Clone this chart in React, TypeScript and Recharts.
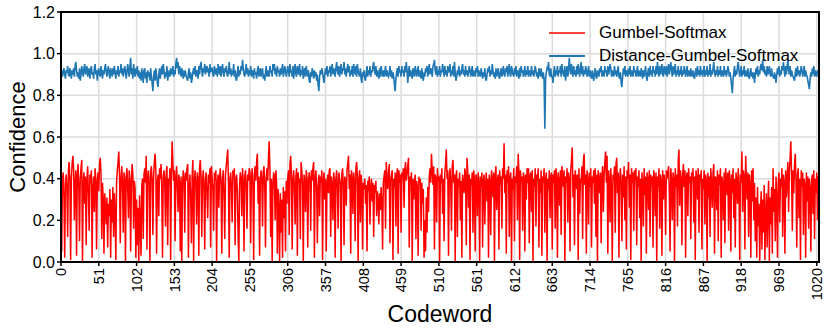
import { LineChart, Line, XAxis, YAxis, CartesianGrid } from 'recharts'

// confidence per codeword (codewords 0..1023)
const gumbelSoftmax = [
  .36, .05, .40, .43, .31, .02, .38, .42, .35, .12, .44, .48, .39, .01, .40, .47, .51,
  .45, .20, .38, .44, .03, .41, .47, .36, .10, .40, .45, .49, .00, .37, .43, .28, .41,
  .08, .39, .46, .33, .15, .42, .38, .44, .02, .36, .41, .24, .45, .40, .06, .38, .43,
  .34, .47, .50, .42, .11, .38, .30, .04, .33, .26, .18, .31, .07, .28, .22, .35, .02,
  .30, .19, .36, .12, .33, .25, .01, .38, .44, .48, .53, .41, .09, .40, .46, .37, .14,
  .43, .39, .00, .41, .45, .36, .21, .44, .40, .05, .38, .47, .42, .16, .39, .35, .02,
  .30, .08, .26, .00, .32, .19, .03, .36, .40, .11, .42, .45, .38, .51, .06, .41, .44,
  .37, .00, .43, .46, .39, .13, .41, .48, .52, .44, .04, .38, .42, .22, .45, .40, .47,
  .35, .02, .41, .44, .39, .17, .43, .46, .08, .40, .37, .45, .01, .42, .58, .47, .39,
  .44, .10, .40, .46, .36, .24, .42, .38, .05, .41, .00, .37, .44, .40, .14, .43, .39,
  .45, .47, .02, .36, .42, .31, .09, .41, .49, .00, .39, .44, .37, .18, .43, .40, .03,
  .45, .49, .41, .12, .38, .44, .36, .06, .40, .43, .33, .21, .42, .38, .45, .07, .46,
  .40, .35, .15, .43, .39, .44, .00, .38, .42, .26, .41, .45, .37, .04, .40, .44, .32,
  .11, .42, .46, .50, .54, .38, .02, .40, .43, .36, .19, .44, .41, .45, .08, .39, .42,
  .34, .13, .00, .37, .43, .40, .22, .45, .38, .05, .41, .44, .36, .16, .42, .39, .45,
  .43, .09, .40, .45, .37, .01, .42, .46, .39, .48, .52, .28, .41, .03, .38, .44, .40,
  .17, .43, .46, .36, .07, .41, .45, .39, .50, .58, .44, .12, .40, .00, .37, .43, .41,
  .20, .44, .38, .04, .35, .26, .00, .33, .14, .30, .02, .36, .21, .34, .05, .39, .28,
  .40, .44, .13, .47, .51, .42, .06, .39, .44, .36, .18, .41, .45, .03, .43, .38, .40,
  .11, .48, .44, .37, .00, .42, .39, .24, .44, .41, .07, .38, .43, .40, .15, .44, .39,
  .45, .48, .02, .40, .44, .37, .09, .35, .42, .22, .41, .38, .44, .01, .39, .43, .30,
  .40, .05, .38, .42, .33, .44, .45, .12, .41, .37, .20, .43, .39, .02, .40, .44, .36,
  .16, .43, .40, .38, .00, .42, .45, .37, .08, .41, .39, .27, .44, .47, .51, .35, .42,
  .04, .44, .40, .23, .43, .38, .10, .45, .48, .41, .00, .39, .44, .19, .42, .37, .06,
  .38, .35, .40, .28, .37, .05, .39, .34, .41, .18, .36, .40, .29, .38, .12, .37, .33,
  .39, .22, .34, .30, .18, .33, .25, .36, .29, .06, .38, .41, .44, .16, .48, .40, .35,
  .43, .47, .09, .39, .42, .44, .01, .40, .36, .43, .17, .41, .45, .04, .44, .38, .42,
  .14, .43, .40, .45, .26, .44, .48, .39, .42, .46, .50, .07, .41, .37, .43, .00, .40,
  .30, .38, .42, .11, .39, .36, .03, .41, .37, .40, .15, .38, .28, .35, .02, .20, .05,
  .31, .14, .36, .24, .41, .45, .38, .52, .44, .37, .46, .06, .42, .40, .19, .45, .39,
  .41, .00, .42, .38, .45, .23, .40, .10, .43, .47, .54, .40, .44, .03, .39, .45, .37,
  .15, .46, .49, .38, .42, .00, .41, .44, .12, .40, .36, .43, .20, .39, .02, .42, .38,
  .33, .45, .41, .08, .50, .43, .26, .42, .01, .40, .37, .43, .14, .44, .39, .05, .42,
  .40, .22, .43, .38, .00, .41, .36, .43, .07, .39, .42, .18, .37, .43, .29, .40, .02,
  .42, .38, .13, .44, .40, .31, .43, .00, .41, .46, .25, .39, .42, .06, .44, .37, .41,
  .16, .45, .40, .57, .33, .42, .04, .44, .38, .46, .12, .41, .43, .00, .40, .35, .45,
  .10, .41, .38, .46, .20, .52, .43, .01, .44, .39, .41, .15, .43, .40, .05, .42, .30,
  .45, .38, .45, .09, .41, .43, .24, .44, .00, .40, .36, .45, .17, .42, .39, .45, .07,
  .40, .33, .44, .03, .41, .38, .45, .14, .39, .43, .00, .40, .35, .44, .21, .41, .43,
  .06, .42, .38, .44, .16, .45, .40, .02, .43, .39, .27, .44, .13, .46, .41, .36, .44,
  .00, .41, .38, .45, .19, .43, .40, .05, .44, .49, .55, .31, .42, .08, .44, .40, .35,
  .42, .01, .45, .23, .40, .38, .46, .11, .48, .52, .37, .42, .04, .44, .39, .18, .43,
  .36, .45, .07, .41, .38, .44, .28, .45, .12, .42, .00, .44, .40, .33, .43, .09, .41,
  .46, .24, .42, .48, .53, .38, .51, .04, .44, .40, .19, .45, .36, .00, .42, .39, .46,
  .14, .47, .50, .33, .43, .02, .40, .45, .37, .10, .42, .31, .46, .20, .41, .06, .44,
  .40, .48, .26, .42, .01, .45, .38, .43, .15, .44, .39, .45, .08, .41, .36, .44, .21,
  .40, .00, .43, .38, .17, .45, .32, .41, .04, .43, .40, .25, .44, .12, .42, .37, .41,
  .07, .44, .40, .22, .43, .00, .41, .36, .45, .16, .42, .39, .03, .44, .30, .42, .38,
  .13, .44, .40, .43, .46, .33, .05, .45, .39, .20, .43, .40, .00, .45, .36, .42, .17,
  .48, .54, .27, .44, .40, .08, .42, .47, .36, .44, .02, .41, .43, .22, .45, .38, .41,
  .11, .43, .39, .45, .19, .41, .01, .44, .40, .30, .45, .14, .42, .38, .44, .06, .40,
  .35, .44, .18, .42, .39, .00, .43, .31, .41, .12, .45, .38, .26, .43, .47, .04, .41,
  .40, .25, .44, .10, .42, .37, .45, .02, .41, .38, .20, .43, .09, .45, .40, .32, .43,
  .15, .44, .38, .05, .42, .33, .45, .21, .40, .07, .43, .39, .28, .45, .36, .01, .42,
  .38, .53, .24, .44, .41, .06, .51, .40, .30, .43, .12, .42, .37, .02, .44, .29, .45,
  .20, .38, .10, .31, .02, .36, .17, .28, .00, .25, .34, .06, .30, .14, .37, .01, .22,
  .33, .07, .27, .39, .00, .31, .18, .36, .04, .45, .24, .35, .10, .41, .30, .02, .38,
  .43, .19, .40, .36, .45, .12, .42, .38, .04, .44, .31, .40, .48, .24, .43, .50, .58,
  .41, .15, .44, .33, .47, .52, .38, .07, .42, .45, .21, .40, .01, .44, .36, .43, .13,
  .40, .37, .02, .43, .29, .41, .16, .40, .35, .05, .39, .42, .23, .44, .11, .40, .33,
  .43, .20, .41, .10,
]

const distanceGumbelSoftmax = [
  .90, .92, .89, .91, .93, .90, .88, .92, .91, .94, .90, .89, .93, .91, .88, .92, .90,
  .93, .89, .94, .96, .92, .89, .91, .88, .93, .87, .90, .94, .91, .89, .93, .95, .90,
  .92, .94, .89, .91, .93, .88, .92, .94, .90, .91, .88, .93, .95, .90, .92, .87, .91,
  .93, .90, .89, .94, .91, .88, .92, .90, .93, .95, .91, .89, .92, .94, .90, .88, .93,
  .91, .89, .93, .90, .94, .91, .88, .92, .90, .94, .89, .92, .91, .95, .90, .93, .89,
  .91, .94, .92, .88, .91, .95, .92, .89, .94, .98, .90, .93, .88, .95, .91, .89, .93,
  .90, .94, .89, .92, .88, .91, .87, .93, .90, .86, .92, .93, .88, .91, .86, .92, .89,
  .91, .87, .93, .89, .86, .82, .89, .92, .87, .93, .90, .86, .84, .90, .93, .88, .91,
  .94, .90, .95, .92, .88, .91, .89, .94, .87, .90, .92, .89, .93, .90, .91, .94, .89,
  .92, .90, .95, .98, .93, .96, .90, .94, .92, .89, .93, .91, .88, .92, .90, .91, .89,
  .88, .87, .91, .93, .88, .91, .86, .88, .91, .93, .90, .94, .89, .92, .91, .88, .94,
  .90, .94, .96, .92, .89, .93, .91, .95, .90, .94, .91, .93, .92, .89, .95, .91, .93,
  .93, .90, .89, .94, .92, .90, .93, .89, .95, .92, .90, .94, .89, .92, .95, .91, .89,
  .93, .91, .94, .90, .89, .92, .96, .90, .93, .89, .92, .90, .95, .89, .92, .88, .87,
  .91, .94, .89, .92, .90, .94, .92, .97, .93, .90, .89, .92, .95, .90, .93, .89, .92,
  .90, .94, .89, .92, .91, .88, .93, .90, .91, .88, .92, .94, .89, .91, .93, .89, .91,
  .93, .88, .90, .87, .91, .94, .89, .92, .90, .89, .94, .91, .92, .89, .95, .92, .95,
  .90, .93, .89, .94, .91, .92, .89, .93, .90, .92, .95, .89, .91, .94, .92, .89, .91,
  .94, .92, .89, .95, .91, .92, .89, .94, .88, .92, .95, .90, .89, .94, .92, .90, .95,
  .89, .92, .90, .94, .88, .91, .93, .89, .94, .91, .89, .92, .87, .86, .91, .89, .93,
  .91, .88, .92, .89, .91, .87, .90, .85, .82, .89, .92, .90, .93, .91, .88, .86, .90,
  .93, .90, .94, .89, .92, .91, .94, .89, .92, .95, .90, .93, .92, .89, .93, .96, .92,
  .90, .94, .89, .92, .95, .90, .93, .92, .96, .90, .93, .89, .92, .95, .91, .94, .89,
  .92, .90, .94, .89, .95, .92, .90, .94, .89, .95, .92, .90, .89, .93, .88, .86, .91,
  .89, .92, .88, .87, .91, .94, .89, .92, .90, .94, .89, .92, .91, .94, .96, .92, .90,
  .94, .89, .92, .90, .88, .93, .89, .94, .91, .89, .92, .89, .91, .94, .89, .92, .90,
  .89, .91, .94, .89, .92, .88, .91, .89, .85, .82, .88, .91, .93, .89, .94, .91, .92,
  .89, .94, .91, .92, .89, .94, .91, .96, .92, .86, .91, .94, .89, .92, .90, .88, .93,
  .91, .89, .94, .92, .89, .91, .94, .89, .92, .90, .88, .93, .89, .87, .91, .89, .93,
  .91, .94, .89, .92, .95, .90, .93, .92, .89, .94, .95, .97, .92, .90, .94, .89, .92,
  .90, .94, .89, .92, .91, .95, .92, .89, .94, .90, .92, .89, .94, .91, .92, .95, .89,
  .92, .90, .94, .89, .96, .91, .87, .89, .92, .90, .94, .89, .92, .90, .93, .95, .90,
  .92, .89, .94, .90, .92, .89, .91, .94, .92, .89, .91, .94, .89, .92, .90, .89, .93,
  .91, .94, .89, .92, .90, .89, .93, .91, .88, .91, .89, .93, .88, .87, .90, .93, .91,
  .94, .89, .92, .90, .95, .92, .89, .91, .88, .93, .89, .91, .93, .89, .88, .91, .93,
  .89, .91, .94, .90, .89, .93, .91, .94, .89, .92, .95, .90, .89, .94, .92, .90, .89,
  .93, .90, .94, .89, .92, .91, .88, .93, .89, .94, .91, .92, .89, .91, .94, .89, .92,
  .90, .94, .89, .92, .91, .89, .94, .90, .92, .89, .91, .94, .92, .89, .91, .88, .93,
  .91, .89, .93, .90, .88, .91, .87, .64, .88, .91, .93, .92, .96, .90, .89, .93, .89,
  .89, .86, .91, .94, .89, .92, .90, .94, .89, .92, .91, .94, .89, .95, .92, .90, .89,
  .94, .87, .91, .94, .89, .92, .98, .93, .90, .95, .92, .89, .94, .90, .92, .89, .94,
  .90, .95, .92, .89, .93, .96, .90, .94, .89, .92, .90, .94, .92, .89, .91, .94, .89,
  .92, .90, .88, .92, .89, .87, .91, .93, .89, .88, .92, .90, .89, .93, .91, .94, .89,
  .92, .90, .89, .94, .91, .92, .89, .94, .90, .92, .95, .93, .89, .92, .90, .89, .94,
  .90, .92, .89, .91, .94, .89, .88, .91, .86, .84, .89, .93, .90, .94, .89, .92, .91,
  .89, .93, .90, .94, .89, .92, .90, .89, .94, .91, .92, .89, .91, .94, .89, .92, .90,
  .89, .93, .91, .88, .92, .89, .91, .94, .89, .87, .91, .93, .89, .94, .90, .92, .89,
  .94, .91, .92, .89, .94, .90, .96, .92, .89, .94, .90, .92, .95, .90, .89, .94, .92,
  .90, .94, .89, .92, .95, .90, .93, .96, .92, .89, .94, .90, .92, .95, .89, .92, .90,
  .94, .89, .92, .90, .94, .89, .92, .90, .94, .92, .89, .91, .94, .89, .92, .91, .89,
  .93, .90, .89, .92, .89, .88, .91, .93, .89, .94, .90, .92, .89, .94, .90, .92, .89,
  .92, .94, .89, .92, .90, .94, .89, .92, .90, .95, .89, .92, .90, .93, .96, .91, .89,
  .92, .90, .94, .89, .92, .90, .94, .89, .92, .90, .89, .94, .90, .92, .89, .91, .94,
  .92, .89, .91, .88, .85, .81, .88, .91, .94, .89, .92, .90, .94, .96, .92, .89, .91,
  .94, .89, .92, .90, .94, .89, .92, .90, .89, .93, .89, .88, .91, .93, .89, .91, .88,
  .91, .86, .90, .93, .90, .94, .89, .92, .90, .94, .95, .92, .97, .91, .94, .90, .92,
  .89, .94, .90, .92, .94, .90, .89, .93, .90, .89, .88, .91, .89, .86, .90, .93, .90,
  .94, .89, .92, .90, .94, .92, .96, .92, .89, .94, .90, .94, .97, .92, .90, .94, .89,
  .92, .90, .89, .88, .87, .91, .93, .89, .94, .90, .92, .89, .91, .94, .92, .89, .91,
  .94, .89, .92, .90, .89, .87, .85, .83, .88, .91, .89, .93, .90, .94, .89, .92, .90,
  .89, .92, .91, .90,
]

const codewordTicks = [0, 51, 102, 153, 204, 255, 306, 357, 408, 459, 510, 561, 612, 663, 714, 765, 816, 867, 918, 969, 1020]
const confidenceTicks = [0, 0.2, 0.4, 0.6, 0.8, 1.0, 1.2]

const seriesNames = ['Gumbel-Softmax', 'Distance-Gumbel-Softmax']
const seriesColors = ['#ff0000', '#1f77b4']

const data = gumbelSoftmax.map((g, i) => ({
  codeword: i,
  gumbel: g,
  distance: distanceGumbelSoftmax[i],
}))

const W = 830
const H = 332
const plot = { left: 61, top: 12, right: 11, bottom: 70 }

const CodewordTick = ({ x, y, payload }: any) => (
  <text
    x={x}
    y={y}
    transform={`rotate(-90, ${x}, ${y})`}
    textAnchor="end"
    dy="0.36em"
    fontSize={14.5}
    fill="#000"
  >
    {payload.value}
  </text>
)

export default function App() {
  const plotW = W - plot.left - plot.right
  const plotH = H - plot.top - plot.bottom

  return (
    <div
      style={{
        position: 'absolute',
        left: 0,
        top: 0,
        width: W,
        height: H,
        background: '#fff',
        fontFamily: '"Liberation Sans", Arial, sans-serif',
      }}
    >
      <LineChart
        width={W}
        height={H}
        data={data}
        margin={{ top: plot.top, right: plot.right, bottom: 0, left: 0 }}
      >
        <CartesianGrid stroke="#dcdcdc" strokeWidth={1.5} />
        <XAxis
          type="number"
          dataKey="codeword"
          domain={[0, 1023]}
          allowDataOverflow
          ticks={codewordTicks}
          interval={0}
          height={plot.bottom}
          axisLine={false}
          tickLine={{ stroke: '#000', strokeWidth: 1.5 }}
          tickSize={4}
          tickMargin={2}
          tick={<CodewordTick />}
          label={() => (
            <text x={plot.left + plotW / 2} y={H - 10} textAnchor="middle" fontSize={23} fill="#000">
              Codeword
            </text>
          )}
        />
        <YAxis
          type="number"
          domain={[0, 1.2]}
          ticks={confidenceTicks}
          interval={0}
          width={plot.left}
          axisLine={false}
          tickLine={{ stroke: '#000', strokeWidth: 1.5 }}
          tickSize={4}
          tickMargin={2}
          tick={{ fontSize: 16, fill: '#000' }}
          tickFormatter={(v: number) => v.toFixed(1)}
          label={() => (
            <text
              x={25}
              y={plot.top + plotH / 2}
              transform={`rotate(-90, 25, ${plot.top + plotH / 2})`}
              textAnchor="middle"
              fontSize={22}
              fill="#000"
            >
              Confidence
            </text>
          )}
        />
        <Line
          type="linear"
          dataKey="gumbel"
          name={seriesNames[0]}
          stroke={seriesColors[0]}
          strokeWidth={1.5}
          dot={false}
          isAnimationActive={false}
        />
        <Line
          type="linear"
          dataKey="distance"
          name={seriesNames[1]}
          stroke={seriesColors[1]}
          strokeWidth={1.6}
          dot={false}
          isAnimationActive={false}
        />
      </LineChart>

      {/* axes frame */}
      <div
        style={{
          position: 'absolute',
          left: plot.left - 1,
          top: plot.top - 1,
          width: plotW + 2,
          height: plotH + 2,
          border: '2px solid #000',
          boxSizing: 'border-box',
          pointerEvents: 'none',
        }}
      />

      {/* legend, no frame */}
      <div style={{ position: 'absolute', left: 549, top: 21, pointerEvents: 'none' }}>
        {seriesNames.map((name, i) => (
          <div key={name} style={{ display: 'flex', alignItems: 'center', height: 23 }}>
            <svg width={36} height={4} style={{ marginRight: 14 }}>
              <line x1={0} y1={2} x2={36} y2={2} stroke={seriesColors[i]} strokeWidth={i === 0 ? 1.5 : 2} />
            </svg>
            <span style={{ fontSize: 17, lineHeight: '23px', color: '#000', whiteSpace: 'nowrap' }}>{name}</span>
          </div>
        ))}
      </div>
    </div>
  )
}
